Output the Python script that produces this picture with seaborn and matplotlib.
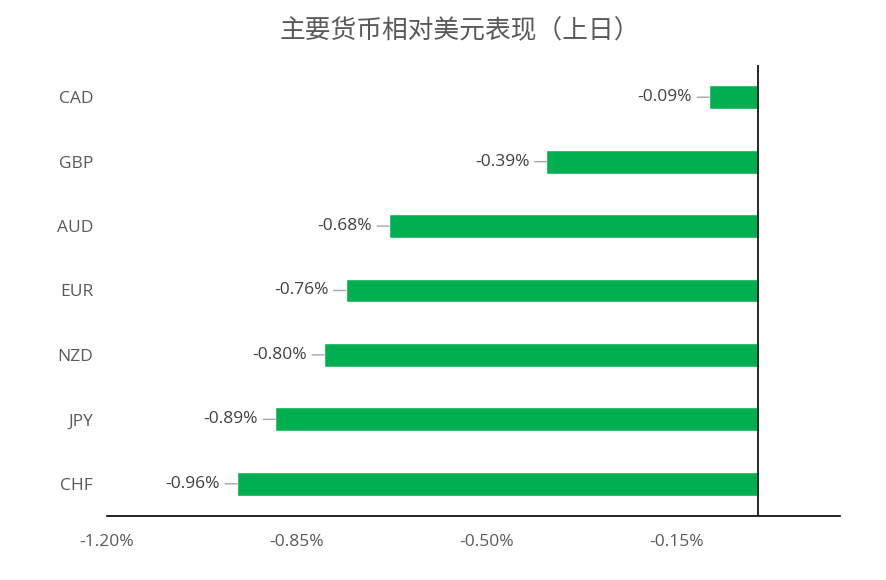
import matplotlib
matplotlib.use("Agg")
import matplotlib.pyplot as plt
import matplotlib.transforms as mtransforms
import seaborn as sns
import pandas as pd

currencies = ["CAD", "GBP", "AUD", "EUR", "NZD", "JPY", "CHF"]
changes = [-0.09, -0.39, -0.68, -0.76, -0.80, -0.89, -0.96]
xticks = [-1.20, -0.85, -0.50, -0.15]
title = "主要货币相对美元表现（上日）"

sns.set_theme(style="white")
plt.rcParams['font.family'] = ['Open Sans', 'Noto Sans CJK SC', 'DejaVu Sans']

df = pd.DataFrame({"currency": currencies, "change": changes})

fig = plt.figure(figsize=(8.87, 5.80), dpi=100)
ax = fig.add_axes([107/887, 64/580, (840-107)/887, (516-65)/580])

sns.barplot(data=df, x="change", y="currency", orient="h", color="#00B050",
            saturation=1, width=0.37, ax=ax, order=currencies)

ax.set_xlim(-1.2, 0.151)
ax.set_ylim(6.5, -0.5)
ax.set_xticks(xticks)
ax.set_xticklabels([f"{v:.2f}%" for v in xticks], color="#595959", fontsize=12.5)
ax.tick_params(axis="x", length=0, pad=13)
ax.tick_params(axis="y", length=0, pad=10, labelsize=12.5, labelcolor="#595959")
ax.set_xlabel("")
ax.set_ylabel("")
for s in ["top", "right", "left"]:
    ax.spines[s].set_visible(False)
ax.spines["bottom"].set_color("black")
ax.spines["bottom"].set_linewidth(1.2)
ax.axvline(0, color="black", lw=1.2, zorder=3)

for i, v in enumerate(changes):
    tr_text = mtransforms.offset_copy(ax.transData, fig=fig, x=-17, y=0, units="dots")
    ax.text(v, i, f"{v:.2f}%", transform=tr_text, ha="right", va="center",
            color="#404040", fontsize=12.5)
    ax.annotate("", xy=(v, i), xycoords="data", xytext=(-12, 0), textcoords="offset pixels",
                arrowprops=dict(arrowstyle="-", color="#A6A6A6", lw=1, shrinkA=0, shrinkB=0))

fig.text(460/887, 1 - 31/580, title, ha="center", va="center", fontsize=18.5,
         color="#595959", family=['Noto Sans CJK SC', 'DejaVu Sans'])

fig.savefig("out.png", dpi=100)
